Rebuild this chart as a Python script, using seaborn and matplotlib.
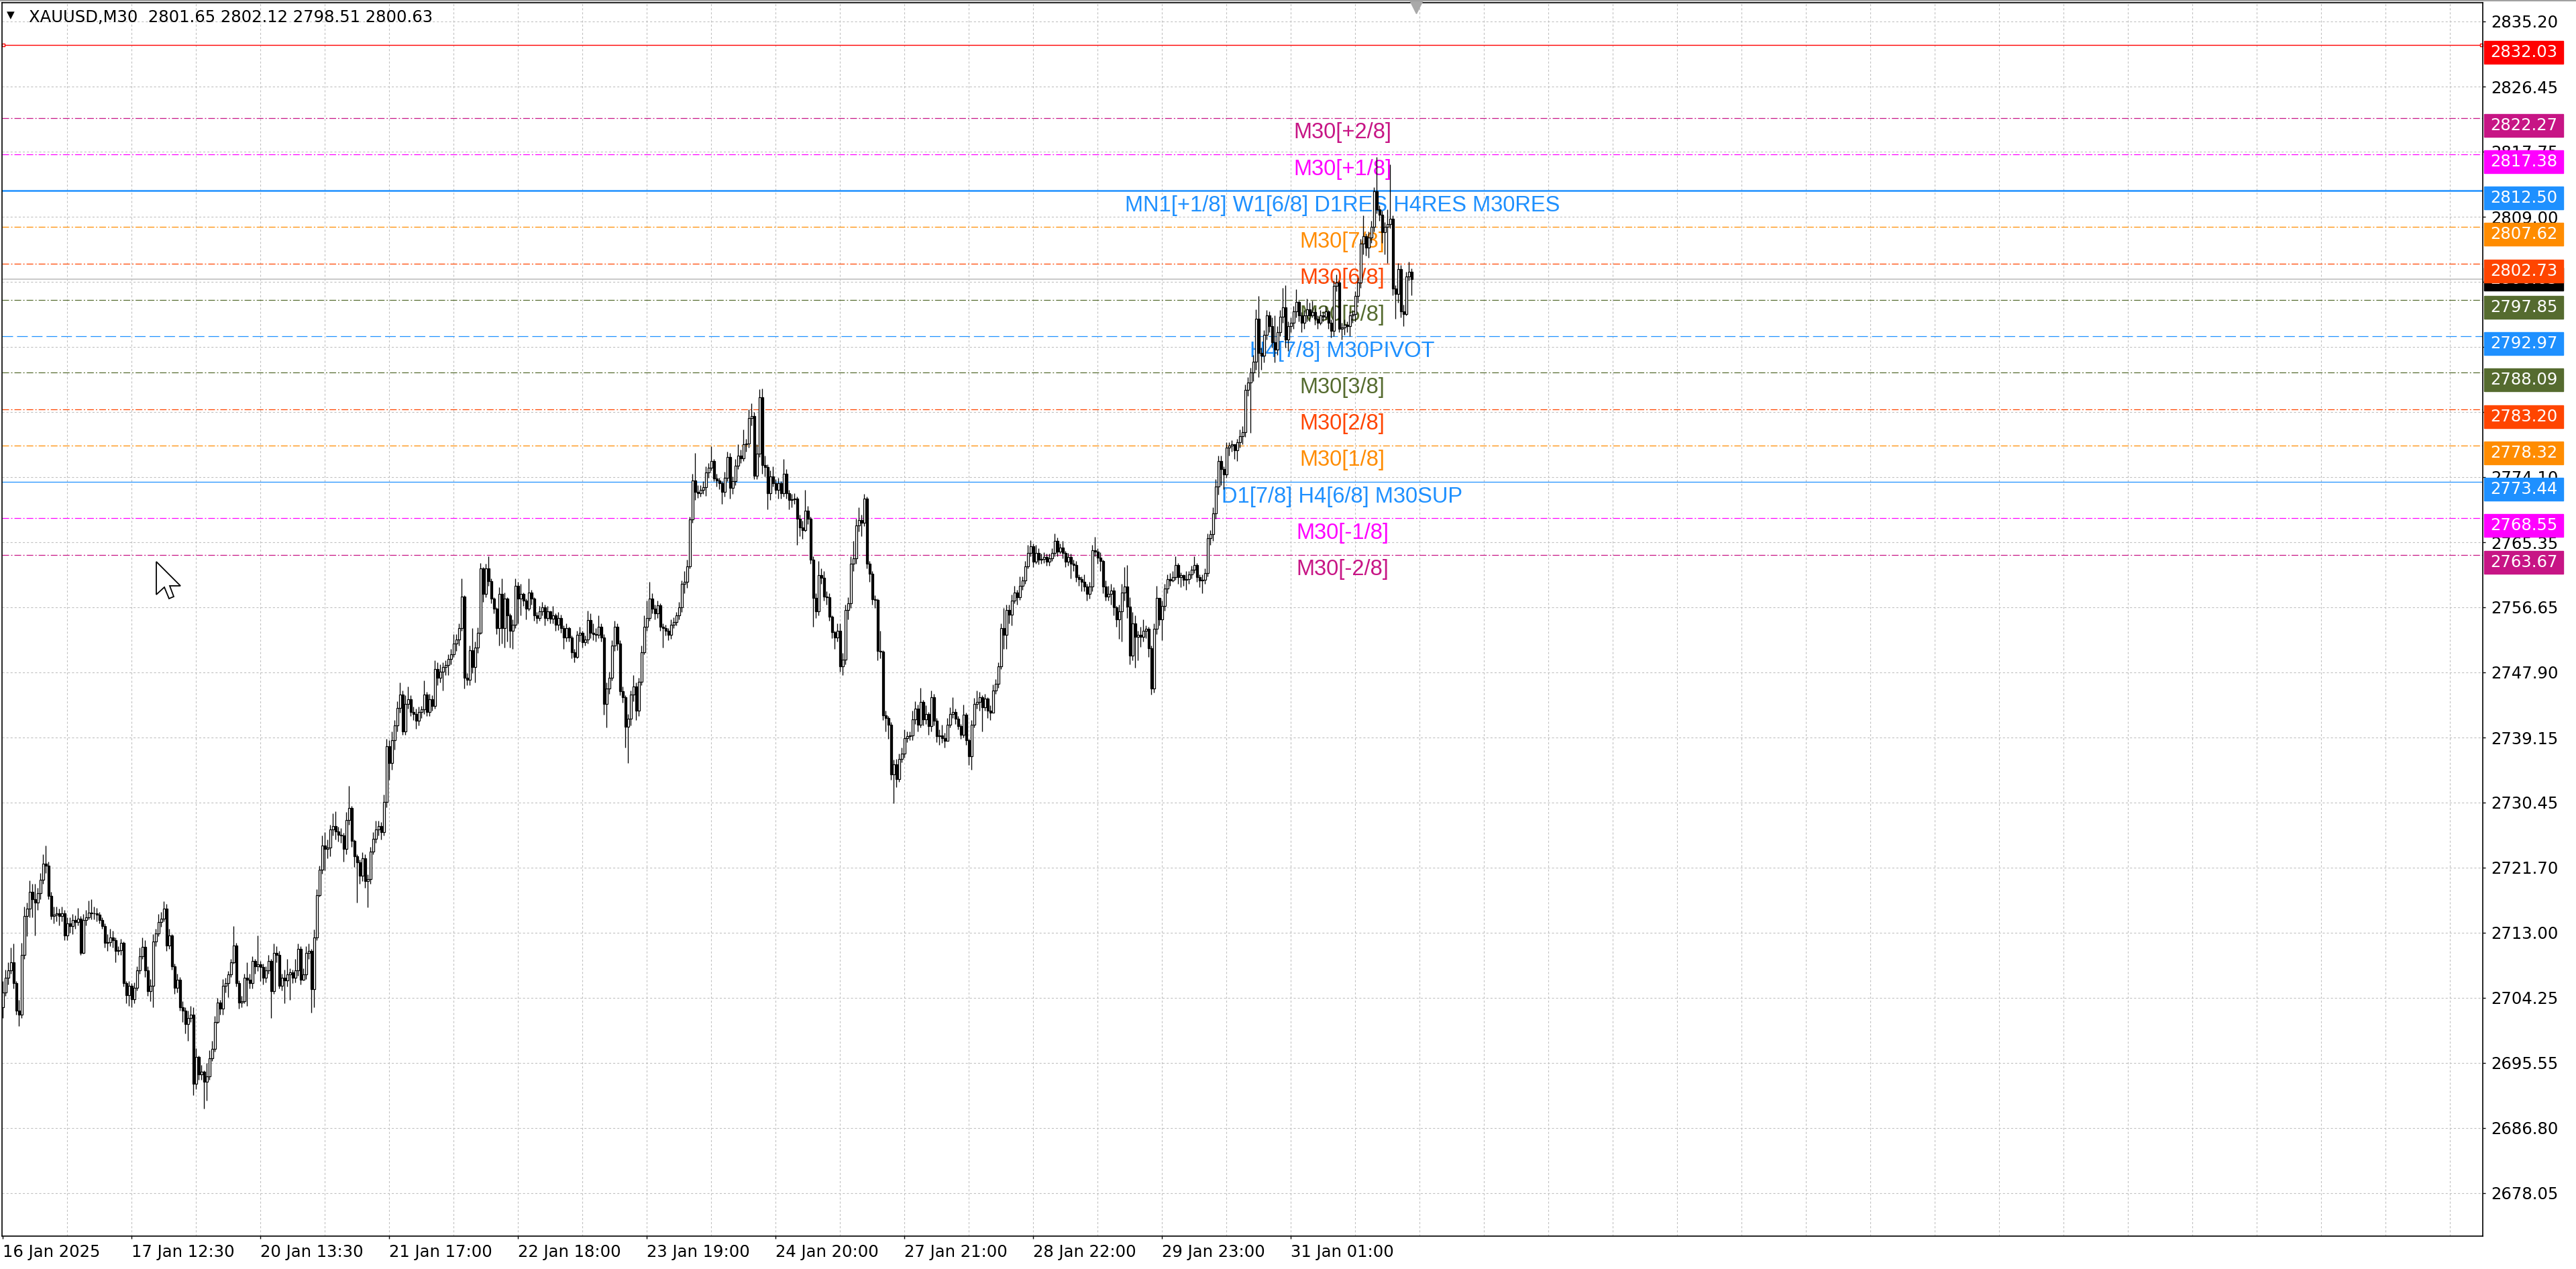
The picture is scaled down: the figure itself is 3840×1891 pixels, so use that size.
import numpy as np
import pandas as pd
import matplotlib
matplotlib.use("Agg")
import matplotlib.pyplot as plt
from matplotlib.patches import Rectangle, Polygon
import seaborn as sns

# ---- data (XAUUSD M30) ----
header = "XAUUSD,M30  2801.65 2802.12 2798.51 2800.63"
first_open = 2703.0

closes = [
    2705.0, 2706.9, 2707.9, 2709.0, 2706.2, 2702.5, 2702.0, 2710.0, 2715.2, 2716.2,  # 0
    2718.5, 2717.5, 2717.0, 2718.3, 2720.1, 2722.2, 2722.0, 2717.9, 2715.2, 2715.4,  # 10
    2715.6, 2715.2, 2715.6, 2712.6, 2714.2, 2713.9, 2714.7, 2714.4, 2714.9, 2710.3,  # 20
    2714.7, 2715.0, 2715.7, 2715.6, 2715.6, 2715.4, 2714.7, 2713.9, 2711.6, 2711.7,  # 30
    2712.3, 2712.0, 2710.5, 2710.6, 2711.6, 2706.2, 2704.6, 2705.9, 2704.1, 2705.6,  # 40
    2707.9, 2709.8, 2711.1, 2707.9, 2705.1, 2705.9, 2711.8, 2712.9, 2714.4, 2714.9,  # 50
    2716.2, 2711.3, 2712.6, 2708.5, 2705.6, 2706.7, 2703.0, 2702.5, 2700.7, 2701.5,  # 60
    2702.0, 2692.7, 2696.3, 2694.0, 2694.3, 2693.0, 2693.7, 2696.1, 2697.4, 2701.0,  # 70
    2703.6, 2702.8, 2705.9, 2706.2, 2707.4, 2709.0, 2711.3, 2706.2, 2703.6, 2703.8,  # 80
    2706.9, 2706.7, 2706.2, 2709.2, 2708.5, 2708.7, 2708.4, 2706.9, 2707.9, 2709.2,  # 90
    2705.1, 2710.3, 2710.0, 2705.9, 2706.9, 2706.6, 2707.4, 2707.7, 2706.9, 2707.9,  # 100
    2710.8, 2706.7, 2707.4, 2710.3, 2710.5, 2705.4, 2712.3, 2718.0, 2721.4, 2724.7,  # 110
    2724.2, 2724.4, 2726.8, 2727.3, 2726.6, 2726.1, 2726.0, 2724.2, 2728.1, 2729.7,  # 120
    2725.3, 2723.2, 2722.4, 2720.6, 2723.0, 2719.9, 2720.2, 2723.9, 2725.6, 2726.8,  # 130
    2727.3, 2726.5, 2730.5, 2738.0, 2735.7, 2738.8, 2740.8, 2743.1, 2744.9, 2740.0,  # 140
    2743.7, 2744.3, 2742.6, 2742.3, 2741.4, 2742.6, 2742.9, 2744.9, 2742.6, 2744.3,  # 150
    2743.4, 2748.3, 2747.2, 2748.0, 2748.6, 2748.9, 2749.7, 2750.3, 2751.8, 2752.3,  # 160
    2753.8, 2758.1, 2747.2, 2746.9, 2750.9, 2748.6, 2751.2, 2753.2, 2761.8, 2758.4,  # 170
    2761.8, 2760.1, 2757.8, 2756.4, 2753.8, 2758.4, 2753.8, 2757.8, 2755.5, 2753.5,  # 180
    2754.3, 2759.5, 2757.8, 2758.4, 2757.5, 2756.4, 2758.6, 2757.8, 2755.5, 2755.2,  # 190
    2756.1, 2756.6, 2755.2, 2756.1, 2755.1, 2755.5, 2754.3, 2755.2, 2753.8, 2752.6,  # 200
    2753.8, 2752.6, 2750.6, 2750.0, 2752.9, 2753.2, 2751.9, 2752.3, 2754.9, 2753.2,  # 210
    2753.0, 2752.9, 2754.0, 2752.6, 2743.7, 2745.7, 2747.2, 2751.5, 2754.0, 2751.8,  # 220
    2745.4, 2744.6, 2740.6, 2741.7, 2744.9, 2746.0, 2742.8, 2746.6, 2750.6, 2754.0,  # 230
    2755.2, 2757.8, 2756.4, 2755.8, 2756.9, 2754.0, 2753.8, 2753.5, 2752.9, 2754.3,  # 240
    2754.6, 2755.5, 2756.6, 2759.8, 2760.0, 2762.1, 2768.4, 2773.6, 2772.1, 2771.9,  # 250
    2772.4, 2772.7, 2774.7, 2775.3, 2776.2, 2773.9, 2773.6, 2773.3, 2772.1, 2774.0,  # 260
    2776.8, 2772.6, 2773.5, 2775.6, 2777.0, 2776.6, 2778.5, 2778.6, 2782.0, 2782.3,  # 270
    2774.3, 2777.2, 2784.8, 2775.7, 2775.4, 2771.9, 2774.2, 2773.3, 2772.4, 2773.3,  # 280
    2771.9, 2774.5, 2771.9, 2771.0, 2771.1, 2771.2, 2768.5, 2767.3, 2767.0, 2769.6,  # 290
    2768.5, 2763.0, 2757.9, 2756.1, 2760.9, 2760.6, 2758.1, 2758.0, 2755.4, 2753.3,  # 300
    2752.6, 2753.5, 2748.7, 2749.6, 2756.3, 2757.2, 2762.5, 2763.2, 2767.6, 2768.3,  # 310
    2768.0, 2771.2, 2762.5, 2761.1, 2757.7, 2757.6, 2750.8, 2750.7, 2742.1, 2741.8,  # 320
    2740.9, 2734.2, 2735.6, 2733.6, 2736.3, 2737.0, 2739.1, 2739.3, 2739.4, 2741.6,  # 330
    2743.0, 2740.9, 2743.9, 2741.6, 2742.3, 2740.7, 2744.6, 2741.4, 2739.3, 2739.4,  # 340
    2739.1, 2738.7, 2740.9, 2742.3, 2742.6, 2741.7, 2740.7, 2739.5, 2742.2, 2738.8,  # 350
    2736.6, 2740.9, 2743.7, 2743.9, 2744.6, 2743.2, 2744.4, 2742.8, 2742.5, 2745.5,  # 360
    2746.4, 2748.7, 2753.8, 2752.9, 2756.3, 2755.6, 2757.5, 2758.6, 2758.0, 2759.5,  # 370
    2760.2, 2762.1, 2763.9, 2764.8, 2762.7, 2763.9, 2763.0, 2763.1, 2763.4, 2762.7,  # 380
    2763.2, 2763.9, 2765.5, 2764.1, 2764.6, 2763.9, 2762.7, 2763.4, 2762.5, 2762.3,  # 390
    2760.7, 2760.4, 2760.0, 2759.4, 2758.4, 2759.4, 2764.3, 2764.1, 2763.3, 2762.8,  # 400
    2759.4, 2758.1, 2758.4, 2758.9, 2756.6, 2755.0, 2756.1, 2758.6, 2759.4, 2756.7,  # 410
    2750.1, 2754.5, 2752.7, 2752.9, 2752.7, 2753.5, 2753.7, 2751.1, 2745.7, 2753.7,  # 420
    2757.9, 2755.0, 2756.8, 2759.1, 2760.4, 2760.2, 2760.7, 2762.3, 2760.7, 2760.9,  # 430
    2760.3, 2760.4, 2761.0, 2761.7, 2762.3, 2760.7, 2760.2, 2760.3, 2761.2, 2765.9,  # 440
    2766.4, 2769.2, 2772.8, 2776.2, 2775.2, 2774.4, 2778.0, 2778.3, 2778.5, 2777.7,  # 450
    2778.8, 2779.6, 2780.1, 2785.8, 2786.8, 2788.1, 2789.6, 2795.3, 2790.7, 2790.4,  # 460
    2793.2, 2795.8, 2794.3, 2792.2, 2791.2, 2793.5, 2795.6, 2796.9, 2792.5, 2794.3,  # 470
    2794.8, 2796.3, 2797.6, 2795.8, 2794.8, 2795.8, 2796.6, 2795.8, 2796.2, 2795.3,  # 480
    2794.8, 2795.8, 2795.6, 2796.3, 2794.8, 2793.7, 2799.7, 2800.2, 2794.0, 2794.2,  # 490
    2794.5, 2794.3, 2795.8, 2796.0, 2798.4, 2800.2, 2805.4, 2806.4, 2804.9, 2806.2,  # 500
    2807.7, 2812.4, 2810.0, 2809.3, 2806.9, 2807.7, 2808.0, 2808.7, 2799.4, 2798.7,  # 510
    2802.0, 2796.3, 2796.0, 2801.0, 2801.65, 2800.63,                                # 520
]

highs = [
    2706.5, 2708.0, 2709.0, 2711.0, 2711.5, 2706.5, 2704.0, 2711.6, 2716.5, 2717.0,
    2720.0, 2719.5, 2719.5, 2719.0, 2721.0, 2723.5, 2724.7, 2722.5, 2718.5, 2716.5,
    2716.5, 2716.2, 2716.5, 2716.0, 2715.0, 2715.0, 2715.5, 2715.3, 2716.3, 2715.2,
    2715.5, 2716.0, 2717.3, 2717.5, 2716.5, 2716.3, 2715.8, 2715.0, 2714.2, 2712.8,
    2713.5, 2713.2, 2712.3, 2711.2, 2712.2, 2711.8, 2706.5, 2706.5, 2706.2, 2706.3,
    2708.5, 2711.0, 2712.3, 2712.0, 2708.5, 2706.8, 2712.8, 2713.5, 2715.5, 2715.8,
    2717.2, 2716.8, 2713.5, 2712.8, 2708.8, 2707.5, 2707.0, 2703.8, 2703.0, 2702.5,
    2703.2, 2703.0, 2697.5, 2696.5, 2695.2, 2694.5, 2695.5, 2697.2, 2698.5, 2701.8,
    2704.2, 2704.0, 2706.8, 2706.9, 2707.8, 2709.5, 2713.9, 2711.6, 2706.6, 2704.5,
    2707.5, 2709.0, 2707.5, 2709.8, 2709.5, 2712.6, 2709.2, 2708.8, 2708.5, 2710.0,
    2709.5, 2711.5, 2711.2, 2710.5, 2707.5, 2708.0, 2709.5, 2708.2, 2708.0, 2709.5,
    2711.5, 2711.2, 2708.2, 2711.2, 2711.5, 2710.8, 2713.4, 2718.8, 2722.0, 2726.0,
    2726.5, 2725.5, 2727.5, 2729.0, 2729.3, 2727.2, 2727.0, 2726.4, 2729.2, 2732.7,
    2730.0, 2725.5, 2723.5, 2722.8, 2723.8, 2723.5, 2720.8, 2724.5, 2726.5, 2728.0,
    2728.0, 2727.8, 2731.5, 2739.0, 2738.8, 2740.0, 2741.5, 2744.0, 2746.5, 2745.5,
    2744.8, 2746.0, 2744.8, 2743.3, 2743.0, 2743.3, 2743.4, 2746.8, 2745.3, 2745.0,
    2744.8, 2749.5, 2749.2, 2749.0, 2749.2, 2749.5, 2750.3, 2751.0, 2753.0, 2753.0,
    2754.5, 2760.5, 2758.2, 2747.8, 2751.5, 2753.8, 2752.0, 2753.9, 2762.6, 2762.0,
    2762.5, 2763.5, 2760.5, 2758.0, 2756.6, 2759.3, 2760.5, 2758.6, 2758.0, 2755.8,
    2755.0, 2760.5, 2760.0, 2759.8, 2758.6, 2757.8, 2760.5, 2759.0, 2758.0, 2756.0,
    2756.8, 2757.3, 2757.0, 2756.8, 2756.2, 2756.8, 2755.8, 2756.0, 2755.6, 2754.2,
    2754.5, 2754.0, 2752.8, 2751.0, 2753.5, 2754.0, 2753.5, 2752.8, 2756.2, 2755.8,
    2754.5, 2753.8, 2755.5, 2754.5, 2753.0, 2746.5, 2748.0, 2752.2, 2754.8, 2754.5,
    2752.2, 2746.0, 2744.8, 2742.3, 2745.5, 2747.5, 2746.5, 2747.2, 2751.5, 2755.5,
    2757.5, 2760.0, 2758.5, 2757.0, 2757.5, 2757.2, 2754.5, 2754.3, 2753.8, 2755.0,
    2755.3, 2756.0, 2757.3, 2760.2, 2761.5, 2763.0, 2768.8, 2774.5, 2777.3, 2773.0,
    2773.0, 2773.5, 2775.5, 2776.0, 2778.2, 2776.5, 2774.5, 2774.0, 2773.5, 2774.8,
    2777.5, 2777.3, 2774.2, 2776.5, 2778.5, 2777.8, 2780.5, 2779.2, 2783.2, 2784.0,
    2782.8, 2778.5, 2785.9, 2786.0, 2777.0, 2775.8, 2775.0, 2775.5, 2773.8, 2774.0,
    2773.5, 2776.5, 2775.2, 2772.4, 2771.8, 2771.9, 2771.5, 2769.0, 2768.2, 2772.4,
    2770.2, 2768.8, 2763.5, 2758.5, 2762.8, 2761.8, 2761.5, 2758.8, 2758.5, 2755.5,
    2753.5, 2754.5, 2754.5, 2750.5, 2757.0, 2758.0, 2763.5, 2765.5, 2768.5, 2770.0,
    2769.0, 2771.8, 2771.5, 2762.8, 2761.5, 2758.2, 2757.8, 2753.5, 2750.9, 2742.8,
    2742.0, 2741.2, 2736.2, 2736.3, 2737.0, 2737.8, 2740.2, 2740.0, 2740.0, 2742.8,
    2744.0, 2743.6, 2745.8, 2744.2, 2743.5, 2742.6, 2745.5, 2745.0, 2741.8, 2740.2,
    2740.9, 2739.8, 2741.8, 2743.2, 2744.6, 2743.0, 2742.0, 2741.0, 2743.6, 2742.5,
    2739.0, 2741.5, 2744.5, 2745.5, 2745.3, 2744.8, 2745.0, 2744.6, 2743.5, 2746.3,
    2747.0, 2749.2, 2754.5, 2756.5, 2757.0, 2757.0, 2758.3, 2759.5, 2759.0, 2760.8,
    2760.8, 2762.8, 2765.0, 2765.6, 2765.2, 2765.0, 2764.5, 2763.8, 2764.0, 2763.8,
    2763.8, 2764.5, 2766.5, 2766.0, 2765.2, 2765.5, 2764.2, 2763.9, 2763.8, 2763.0,
    2762.8, 2761.0, 2760.8, 2761.0, 2759.8, 2760.0, 2765.0, 2766.1, 2764.5, 2764.0,
    2763.0, 2760.2, 2759.5, 2759.8, 2759.3, 2756.8, 2757.0, 2759.8, 2762.0, 2762.3,
    2758.0, 2756.0, 2755.5, 2753.5, 2754.0, 2755.0, 2754.2, 2754.0, 2751.5, 2754.5,
    2759.5, 2757.5, 2757.5, 2759.8, 2761.0, 2761.2, 2761.5, 2763.5, 2762.6, 2761.3,
    2761.0, 2761.5, 2761.5, 2762.2, 2763.5, 2762.6, 2761.0, 2761.0, 2761.8, 2766.5,
    2767.0, 2770.0, 2773.8, 2777.0, 2777.0, 2775.5, 2778.8, 2778.8, 2779.0, 2778.5,
    2779.2, 2780.5, 2780.9, 2786.5, 2787.5, 2788.8, 2790.5, 2796.6, 2798.4, 2791.5,
    2793.8, 2796.5, 2796.3, 2795.5, 2795.8, 2794.3, 2796.5, 2799.5, 2799.8, 2795.0,
    2795.5, 2797.0, 2799.3, 2797.8, 2796.2, 2796.5, 2798.0, 2797.5, 2797.8, 2796.8,
    2795.8, 2796.5, 2796.3, 2797.0, 2796.5, 2795.2, 2800.5, 2801.3, 2800.5, 2794.8,
    2795.2, 2795.0, 2796.3, 2796.5, 2799.0, 2800.8, 2806.0, 2809.2, 2806.8, 2807.0,
    2808.5, 2813.0, 2817.0, 2810.5, 2809.8, 2808.3, 2810.0, 2816.0, 2809.2, 2799.8,
    2802.8, 2802.5, 2797.2, 2801.6, 2803.0, 2802.12,
]

lows = [
    2701.5, 2704.5, 2706.0, 2707.5, 2705.5, 2702.0, 2700.5, 2701.5, 2709.5, 2712.5,
    2715.0, 2715.0, 2712.6, 2716.0, 2717.5, 2719.5, 2721.0, 2717.5, 2714.8, 2714.2,
    2714.5, 2714.0, 2714.5, 2712.0, 2712.0, 2713.0, 2712.8, 2713.5, 2714.0, 2710.0,
    2710.2, 2714.0, 2714.8, 2714.8, 2714.8, 2714.5, 2714.2, 2713.5, 2711.0, 2710.5,
    2711.2, 2711.0, 2709.0, 2710.0, 2710.0, 2705.8, 2703.5, 2703.2, 2703.0, 2703.5,
    2705.2, 2707.5, 2709.5, 2707.0, 2704.5, 2703.8, 2703.0, 2711.2, 2712.5, 2713.8,
    2714.5, 2710.5, 2710.8, 2708.0, 2704.8, 2705.0, 2702.5, 2701.0, 2699.5, 2698.5,
    2701.0, 2691.2, 2692.0, 2693.3, 2693.3, 2689.4, 2690.5, 2693.3, 2695.8, 2697.0,
    2700.8, 2702.0, 2702.0, 2705.0, 2704.3, 2707.0, 2708.8, 2705.8, 2702.8, 2703.0,
    2703.5, 2703.2, 2705.5, 2705.5, 2707.5, 2707.8, 2706.5, 2706.0, 2706.3, 2707.5,
    2701.5, 2704.8, 2709.0, 2705.5, 2705.2, 2703.5, 2705.8, 2704.0, 2706.2, 2706.3,
    2707.2, 2706.0, 2706.6, 2706.8, 2709.5, 2702.3, 2703.0, 2712.0, 2717.8, 2720.9,
    2721.3, 2723.0, 2723.2, 2726.0, 2725.5, 2725.2, 2725.0, 2722.5, 2723.5, 2727.5,
    2724.5, 2721.8, 2717.0, 2719.5, 2719.9, 2719.0, 2716.4, 2719.5, 2723.5, 2725.0,
    2726.0, 2725.5, 2726.0, 2729.8, 2733.5, 2734.8, 2737.5, 2740.0, 2742.5, 2739.5,
    2739.5, 2743.0, 2742.0, 2741.5, 2740.3, 2740.8, 2741.8, 2742.3, 2742.0, 2742.0,
    2742.8, 2743.0, 2746.2, 2746.5, 2745.5, 2747.5, 2747.5, 2749.0, 2750.0, 2750.8,
    2751.5, 2753.5, 2745.7, 2746.2, 2746.2, 2747.8, 2746.5, 2750.5, 2753.0, 2757.3,
    2758.0, 2759.5, 2757.2, 2755.8, 2753.0, 2751.5, 2751.8, 2751.2, 2752.0, 2751.2,
    2751.0, 2753.8, 2754.5, 2755.5, 2756.8, 2755.0, 2756.2, 2757.0, 2754.8, 2754.5,
    2754.8, 2755.5, 2754.2, 2754.8, 2754.5, 2754.5, 2753.5, 2753.6, 2753.2, 2751.0,
    2752.0, 2752.0, 2749.8, 2749.2, 2749.8, 2752.0, 2751.2, 2751.5, 2751.8, 2752.5,
    2752.2, 2752.0, 2752.5, 2752.0, 2742.2, 2740.5, 2745.0, 2746.8, 2750.8, 2750.9,
    2744.8, 2743.8, 2737.8, 2735.7, 2740.8, 2744.0, 2741.5, 2742.0, 2746.2, 2750.3,
    2753.5, 2754.8, 2755.8, 2755.0, 2755.2, 2753.5, 2751.2, 2752.8, 2752.2, 2752.4,
    2753.8, 2754.2, 2755.0, 2756.0, 2758.5, 2759.2, 2761.8, 2768.0, 2771.0, 2771.3,
    2771.5, 2771.8, 2771.6, 2774.0, 2775.0, 2773.5, 2772.8, 2772.5, 2770.5, 2771.5,
    2773.5, 2771.2, 2771.8, 2773.0, 2775.2, 2776.0, 2776.2, 2777.5, 2778.0, 2781.0,
    2773.8, 2773.8, 2776.8, 2774.5, 2774.2, 2769.8, 2771.0, 2772.8, 2771.8, 2771.2,
    2771.2, 2771.5, 2771.2, 2769.8, 2770.0, 2770.5, 2765.0, 2766.2, 2765.8, 2766.8,
    2767.8, 2762.5, 2754.0, 2755.2, 2755.5, 2759.8, 2757.5, 2757.0, 2754.8, 2752.5,
    2751.0, 2752.0, 2748.0, 2747.5, 2749.0, 2755.0, 2756.5, 2761.5, 2762.5, 2766.8,
    2766.2, 2767.5, 2761.8, 2760.0, 2757.0, 2756.5, 2749.5, 2749.8, 2741.5, 2740.0,
    2739.0, 2733.5, 2730.3, 2732.5, 2733.2, 2735.8, 2736.5, 2738.5, 2738.8, 2738.8,
    2741.0, 2740.0, 2740.5, 2740.8, 2741.0, 2739.5, 2740.0, 2740.8, 2738.5, 2738.2,
    2738.4, 2737.8, 2738.8, 2740.5, 2741.8, 2741.0, 2740.2, 2739.0, 2739.2, 2738.2,
    2735.5, 2734.8, 2740.5, 2743.0, 2742.8, 2740.0, 2742.8, 2741.8, 2741.5, 2742.5,
    2745.0, 2745.8, 2748.3, 2751.0, 2751.0, 2754.5, 2754.2, 2757.2, 2757.0, 2757.6,
    2759.0, 2759.8, 2761.8, 2763.5, 2762.0, 2762.5, 2762.4, 2762.5, 2762.6, 2762.2,
    2762.2, 2762.8, 2763.5, 2763.5, 2763.8, 2763.2, 2762.0, 2762.2, 2760.5, 2761.5,
    2760.0, 2759.5, 2758.8, 2758.8, 2757.5, 2757.8, 2758.8, 2763.5, 2762.5, 2761.5,
    2758.5, 2757.5, 2757.5, 2757.0, 2755.5, 2754.0, 2752.4, 2752.0, 2757.5, 2755.2,
    2749.0, 2749.5, 2748.5, 2749.5, 2751.3, 2752.0, 2752.5, 2750.0, 2744.9, 2745.2,
    2753.0, 2754.2, 2752.2, 2756.2, 2758.5, 2759.5, 2760.0, 2760.3, 2759.8, 2759.3,
    2759.5, 2759.0, 2759.8, 2760.5, 2761.2, 2760.0, 2759.3, 2758.5, 2759.8, 2760.8,
    2765.0, 2765.5, 2768.5, 2771.7, 2773.0, 2772.5, 2774.0, 2777.0, 2777.5, 2776.5,
    2776.2, 2778.0, 2778.5, 2779.5, 2785.0, 2780.0, 2787.0, 2788.5, 2787.5, 2788.5,
    2789.5, 2792.5, 2793.5, 2791.5, 2789.5, 2790.5, 2793.0, 2794.8, 2791.5, 2791.0,
    2793.5, 2794.0, 2795.5, 2795.0, 2793.5, 2794.0, 2795.0, 2795.0, 2795.5, 2794.5,
    2794.0, 2794.5, 2795.0, 2795.2, 2794.0, 2792.8, 2793.0, 2799.0, 2793.5, 2792.5,
    2793.2, 2793.5, 2793.0, 2794.8, 2795.0, 2797.5, 2799.5, 2804.0, 2803.8, 2803.5,
    2805.5, 2807.0, 2809.5, 2808.5, 2805.5, 2804.0, 2802.8, 2807.5, 2798.5, 2795.3,
    2797.5, 2795.5, 2794.3, 2795.8, 2800.5, 2798.51,
]

date_labels = ["16 Jan 2025", "17 Jan 12:30", "20 Jan 13:30", "21 Jan 17:00",
               "22 Jan 18:00", "23 Jan 19:00", "24 Jan 20:00", "27 Jan 21:00",
               "28 Jan 22:00", "29 Jan 23:00", "31 Jan 01:00"]
bars_per_label = 48
bars_per_grid = 24

price_ticks = [2835.20, 2826.45, 2817.75, 2809.00, 2800.30, 2791.55, 2782.85,
               2774.10, 2765.35, 2756.65, 2747.90, 2739.15, 2730.45, 2721.70,
               2713.00, 2704.25, 2695.55, 2686.80, 2678.05]

level_prices = [2832.03, 2822.27, 2817.38, 2812.50, 2807.62, 2802.73, 2797.85,
                2792.97, 2788.09, 2783.20, 2778.32, 2773.44, 2768.55, 2763.67]
level_names = ["", "M30[+2/8]", "M30[+1/8]", "MN1[+1/8] W1[6/8] D1RES H4RES M30RES",
               "M30[7/8]", "M30[6/8]", "M30[5/8]", "H4[7/8] M30PIVOT", "M30[3/8]",
               "M30[2/8]", "M30[1/8]", "D1[7/8] H4[6/8] M30SUP", "M30[-1/8]", "M30[-2/8]"]
bid_price = 2800.63

# ---- styles ----
level_colors = ["#FF0000", "#C71585", "#FF00FF", "#1E90FF", "#FF8C00", "#FF4500", "#556B2F",
                "#1E90FF", "#556B2F", "#FF4500", "#FF8C00", "#1E90FF", "#FF00FF", "#C71585"]
dashdot = (0, (7.2, 2.2, 1.4, 2.2))
dashed = (0, (11.5, 4.3))
level_styles = ["-", dashdot, dashdot, "-", dashdot, dashdot, dashdot,
                dashed, dashdot, dashdot, dashdot, "-", dashdot, dashdot]
level_widths = [1.0, 0.9, 0.9, 1.8, 0.9, 0.9, 0.9, 0.9, 0.9, 0.9, 0.9, 0.9, 0.9, 0.9]

df = pd.DataFrame({"close": closes, "high": highs, "low": lows})
df["open"] = [first_open] + closes[:-1]
df["bar"] = np.arange(len(df))
df["high"] = df[["high", "open", "close"]].max(axis=1)
df["low"] = df[["low", "open", "close"]].min(axis=1)

sns.set_theme(style="white")
plt.rcParams["font.family"] = ["DejaVu Sans"]
plt.rcParams["lines.scale_dashes"] = False

W, H = 3840, 1891
fig = plt.figure(figsize=(W / 100, H / 100), dpi=100)
fig.patch.set_facecolor("white")

# axes box in pixels: left 3, right 3701, top 4, bottom 1842
ax = fig.add_axes([3 / W, 1 - 1842 / H, 3698 / W, 1838 / H])
ax.set_facecolor("white")

px_bar = 4.0
ax.set_xlim((3 - 4) / px_bar, (3701 - 4) / px_bar)
ppu = 11.11  # pixels per price unit, tick 2835.20 sits at pixel row 32
ax.set_ylim(2835.20 - (1842 - 32) / ppu, 2835.20 + (32 - 4) / ppu)

# grid
for p in price_ticks:
    ax.axhline(p, color="#C0C0C0", lw=0.8, ls=(0, (2.2, 2.2)), zorder=0.5)
xmax = ax.get_xlim()[1]
for g in np.arange(bars_per_grid, xmax, bars_per_grid):
    ax.axvline(g, color="#C0C0C0", lw=0.8, ls=(0, (2.2, 2.2)), zorder=0.5)

# level lines and labels
label_bar = 499.25
for p, name, col, st, lw in zip(level_prices, level_names, level_colors, level_styles, level_widths):
    ax.axhline(p, color=col, lw=lw, ls=st, zorder=1)
    if name:
        ax.annotate(name, xy=(label_bar, p), xytext=(0, -22.0), textcoords="offset points",
                    ha="center", va="baseline", color=col, fontsize=23.5,
                    family=["Liberation Sans", "DejaVu Sans"], zorder=2)
ax.axhline(bid_price, color="#C0C0C0", lw=1.2, zorder=1)

# small square handles on the red line
ax.plot([ax.get_xlim()[0] + 0.5, xmax - 0.6], [level_prices[0]] * 2, ls="none", marker="s",
        ms=3.5, mfc="white", mec="#FF0000", mew=1.0, zorder=2, clip_on=False)

# candles
up = df["close"] >= df["open"]
ax.vlines(df["bar"], df["low"], df["high"], color="black", lw=0.95, zorder=3)
body_low = df[["open", "close"]].min(axis=1)
body_h = (df["close"] - df["open"]).abs()
ax.bar(df["bar"], body_h, bottom=body_low, width=0.75,
       color=np.where(up, "white", "black"), edgecolor="black", linewidth=0.9, zorder=4)

# axes frame and ticks
for s in ax.spines.values():
    s.set_color("black")
    s.set_linewidth(1.2)
ax.set_yticks(price_ticks)
ax.set_yticklabels([f"{p:.2f}" for p in price_ticks])
ax.yaxis.tick_right()
ax.tick_params(axis="y", right=True, left=False, length=3, width=1, labelsize=17.5, pad=5.5,
               colors="black")
label_pos = np.arange(len(date_labels)) * bars_per_label
ax.set_xticks(label_pos)
ax.set_xticklabels(date_labels, ha="left")
ax.tick_params(axis="x", bottom=True, length=3, width=1, labelsize=17.5, pad=6, colors="black")
ax.grid(False)

# right-axis price boxes (the bid box sits under the level boxes)
ytr = ax.get_yaxis_transform()
px_y = 1 / ppu
box_x0 = (3703 - 3) / 3698
box_w = (3821 - 3703) / 3698
txt_x = (3712 - 3) / 3698
ax.add_patch(Rectangle((box_x0, bid_price - 17 * px_y), box_w, 34 * px_y, transform=ytr,
                       color="black", clip_on=False, zorder=5))
ax.text(txt_x, bid_price, f"{bid_price:.2f}", transform=ytr, color="white", fontsize=17.5,
        va="center", ha="left", clip_on=False, zorder=5.5)
for p, col in zip(level_prices, level_colors):
    ax.add_patch(Rectangle((box_x0, p - 28 * px_y), box_w, 34 * px_y, transform=ytr,
                           color=col, clip_on=False, zorder=6))
    ax.text(txt_x, p - 11 * px_y, f"{p:.2f}", transform=ytr, color="white", fontsize=17.5,
            va="center", ha="left", clip_on=False, zorder=7)

# chart shift marker at the top
xtr = ax.get_xaxis_transform()
ax.plot([526.75], [1 - 6 / 1838], marker="v", ms=14, color="#A9A9A9", transform=xtr,
        clip_on=False, zorder=8)

# mouse pointer left in the screenshot (figure pixels from top-left)
cursor_px = [(233, 837), (233, 886), (245, 875), (252, 892), (259, 889), (253, 873), (269, 873)]
cursor = Polygon([(x / W, 1 - y / H) for x, y in cursor_px], closed=True,
                 transform=fig.transFigure, facecolor="white", edgecolor="black", lw=1.3)
fig.add_artist(cursor)

# header
fig.text(10 / W, 1 - 23 / H, "\u25BC", fontsize=11, va="center", ha="left", color="black")
fig.text(43 / W, 1 - 26 / H, header, fontsize=17.5, va="center", ha="left", color="black")
fig.add_artist(plt.Line2D([0, 1], [1 - 1 / H, 1 - 1 / H], color="#A0A0A0", lw=1.5))

fig.savefig("out.png", dpi=100, facecolor="white")
